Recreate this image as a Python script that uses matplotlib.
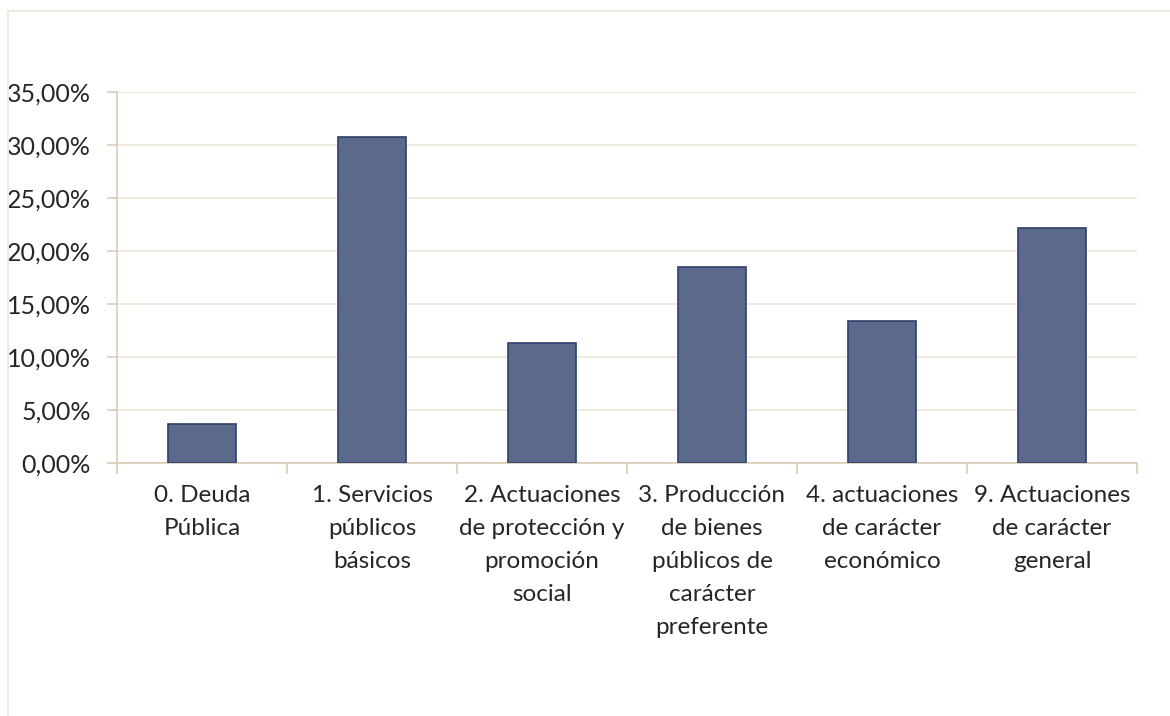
import matplotlib
matplotlib.use("Agg")
import matplotlib.pyplot as plt
from matplotlib.lines import Line2D
from matplotlib.ticker import FuncFormatter, MultipleLocator

categories = [
    "0. Deuda\nPública",
    "1. Servicios\npúblicos\nbásicos",
    "2. Actuaciones\nde protección y\npromoción\nsocial",
    "3. Producción\nde bienes\npúblicos de\ncarácter\npreferente",
    "4. actuaciones\nde carácter\neconómico",
    "9. Actuaciones\nde carácter\ngeneral",
]
shares = [3.7, 30.8, 11.3, 18.5, 13.4, 22.2]

plt.rcParams["font.family"] = ["Lato", "DejaVu Sans"]

fig = plt.figure(figsize=(11.7, 7.16), dpi=100)
ax = fig.add_axes([117 / 1170, 1 - 463 / 716, 1020 / 1170, 371 / 716])

bar_color = "#5b6a8b"
edge_color = "#2f3f6e"
axis_color = "#d8ceb4"
grid_color = "#ece6d8"
text_color = "#262626"

x = range(len(categories))
ax.bar(x, shares, width=0.4, color=bar_color, edgecolor=edge_color, linewidth=1.2, zorder=3)

ax.set_xlim(-0.5, len(categories) - 0.5)
ax.set_ylim(0, 35)
ax.yaxis.set_major_locator(MultipleLocator(5))
ax.yaxis.set_major_formatter(FuncFormatter(lambda v, p: f"{v:.2f}%".replace(".", ",")))
ax.grid(axis="y", color=grid_color, linewidth=1.2, zorder=0)

ax.set_xticks(list(x))
ax.set_xticklabels(categories, fontsize=17.5, color=text_color, linespacing=1.7, va="top")
ax.tick_params(axis="x", length=0, pad=16)
# category boundary ticks
ax.set_xticks([i - 0.5 for i in range(len(categories) + 1)], minor=True)
ax.tick_params(axis="x", which="minor", length=8, color=axis_color, width=1.2)
ax.tick_params(axis="y", length=7, color=axis_color, width=1.2, labelsize=18,
               labelcolor=text_color, pad=12)

for side in ["top", "right"]:
    ax.spines[side].set_visible(False)
for side in ["left", "bottom"]:
    ax.spines[side].set_color(axis_color)
    ax.spines[side].set_linewidth(1.2)

# outer chart border (only top and left visible in reference)
fig.add_artist(Line2D([8 / 1170, 1.0], [1 - 11 / 716] * 2, color="#efe9dc", linewidth=1.5))
fig.add_artist(Line2D([8 / 1170] * 2, [0.0, 1 - 11 / 716], color="#efe9dc", linewidth=1.5))

fig.savefig("out.png", dpi=100)
